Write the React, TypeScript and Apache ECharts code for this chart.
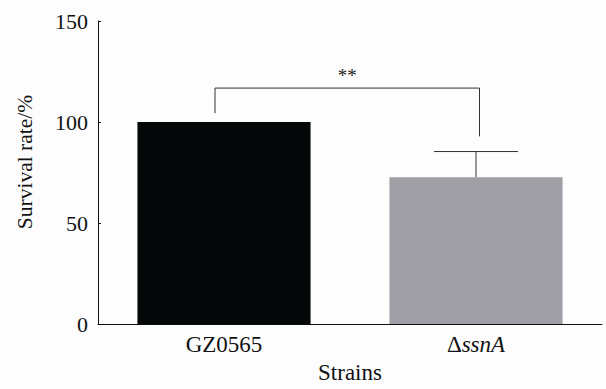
import React, { useEffect, useRef } from "react";
import * as echarts from "echarts";

const categories = ["GZ0565", "ΔssnA"];
const survival = [100, 72.7];
const errorTop = [100, 85.4];
const yTicks = [0, 50, 100, 150];
const bracket = { left: 104.4, right: 92.9, top: 116.8, label: "**" };

const FONT = "Liberation Serif";

export default function App() {
  const ref = useRef<HTMLDivElement>(null);
  useEffect(() => {
    document.body.style.margin = "0";
    const chart = echarts.init(ref.current!, undefined, { renderer: "svg" });
    chart.setOption({
      animation: false,
      backgroundColor: "#fdfdfd",
      textStyle: { fontFamily: FONT },
      grid: { left: 98, right: 4, top: 21, bottom: 53 },
      xAxis: {
        type: "category",
        data: categories,
        name: "Strains",
        nameLocation: "middle",
        nameGap: 31,
        nameTextStyle: { fontFamily: FONT, fontSize: 23, color: "#111" },
        axisLine: { lineStyle: { color: "#111", width: 1 } },
        axisTick: { show: false },
        axisLabel: {
          margin: 9,
          fontFamily: FONT,
          fontSize: 23,
          color: "#111",
          formatter: (v: string) => (v.startsWith("Δ") ? "{n|Δ}{i|" + v.slice(1) + "}" : v),
          rich: {
            n: { fontFamily: FONT, fontSize: 23, color: "#111" },
            i: { fontFamily: FONT, fontSize: 23, color: "#111", fontStyle: "italic" },
          },
        },
      },
      yAxis: {
        type: "value",
        min: 0,
        max: 150,
        interval: 50,
        axisLine: { show: true, lineStyle: { color: "#111", width: 1 } },
        axisTick: { show: true, inside: true, length: 3, lineStyle: { color: "#111" } },
        splitLine: { show: false },
        axisLabel: {
          margin: 10,
          fontFamily: FONT,
          fontSize: 22,
          color: "#111",
          formatter: (v: number) => (yTicks.includes(v) ? String(v) : ""),
        },
      },
      graphic: [
        {
          type: "text",
          x: 25,
          y: 162,
          rotation: Math.PI / 2,
          style: {
            text: "Survival rate/%",
            fontFamily: FONT,
            fontSize: 21.5,
            fill: "#111",
            align: "center",
            verticalAlign: "middle",
          },
        },
      ],
      series: [
        {
          type: "bar",
          data: survival.map((v, i) => ({
            value: v,
            itemStyle: { color: i === 0 ? "#050809" : "#a09fa5" },
          })),
          barWidth: "68.7%",
        },
        {
          type: "custom",
          data: survival.map((v, i) => [i, v, errorTop[i]]),
          renderItem: (params: any, api: any) => {
            const i = api.value(0);
            const v = api.value(1);
            const t = api.value(2);
            if (t <= v) return { type: "group", children: [] };
            const p0 = api.coord([i, v]);
            const p1 = api.coord([i, t]);
            const half = 42;
            return {
              type: "group",
              children: [
                { type: "line", shape: { x1: p0[0], y1: p0[1], x2: p1[0], y2: p1[1] }, style: { stroke: "#333", lineWidth: 1 } },
                { type: "line", shape: { x1: p1[0] - half, y1: p1[1], x2: p1[0] + half, y2: p1[1] }, style: { stroke: "#333", lineWidth: 1 } },
              ],
            };
          },
          z: 5,
        },
        {
          type: "custom",
          data: [[0, 1, bracket.left, bracket.right, bracket.top]],
          renderItem: (params: any, api: any) => {
            const a = api.coord([api.value(0), api.value(2)]);
            const b = api.coord([api.value(1), api.value(3)]);
            const ta = api.coord([api.value(0), api.value(4)]);
            const xl = a[0] - 9;
            const xr = b[0] + 3.5;
            const yt = ta[1];
            return {
              type: "group",
              children: [
                {
                  type: "polyline",
                  shape: { points: [[xl, a[1]], [xl, yt], [xr, yt], [xr, b[1]]] },
                  style: { stroke: "#333", lineWidth: 1, fill: "none" },
                },
                {
                  type: "text",
                  x: (xl + xr) / 2,
                  y: yt - 13,
                  style: {
                    text: bracket.label,
                    fontFamily: FONT,
                    fontSize: 19,
                    fill: "#222",
                    align: "center",
                    verticalAlign: "middle",
                  },
                },
              ],
            };
          },
          z: 5,
        },
      ],
    });
    return () => chart.dispose();
  }, []);
  return <div ref={ref} style={{ width: 606, height: 389 }} />;
}
